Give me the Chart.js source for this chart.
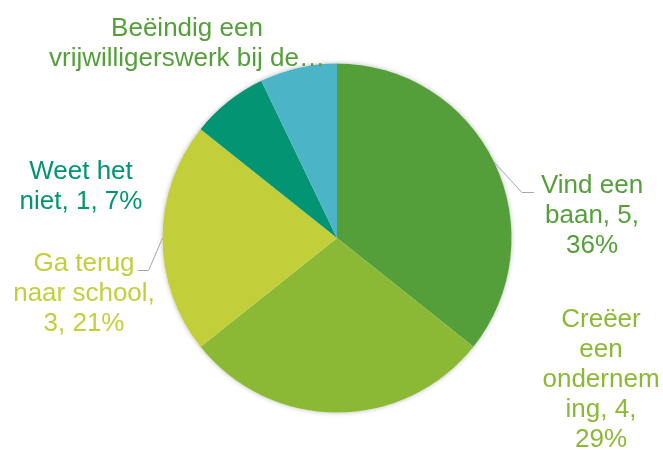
<!DOCTYPE html>
<html>
<head>
<meta charset="utf-8">
<script src="https://cdn.jsdelivr.net/npm/chart.js@4.4.1/dist/chart.umd.min.js"></script>
<style>
  body { margin: 0; background: #fff; }
  #wrap { width: 663px; height: 450px; position: relative; }
</style>
</head>
<body>
<div id="wrap"><canvas id="chart"></canvas></div>
<script>
// data
const categories = ['Vind een baan', 'Creëer een onderneming', 'Ga terug naar school', 'Weet het niet', 'Beëindig een vrijwilligerswerk bij de...'];
const counts = [5, 4, 3, 1, 1];
const sliceColors = ['#559F3A', '#8CB935', '#C2CF3A', '#039573', '#4BB4C6'];
const labelColors = ['#559F3A', '#8CB935', '#C2CF3A', '#039573', '#559F3A'];
const labelLines = [
  ['Vind een', 'baan, 5,', '36%'],
  ['Creëer', 'een', 'ondernem', 'ing, 4,', '29%'],
  ['Ga terug', 'naar school,', '3, 21%'],
  ['Weet het', 'niet, 1, 7%'],
  ['Beëindig een', 'vrijwilligerswerk bij de…']
];

// label placement, relative to pie centre (first line baseline)
const labelPos = [[255, -45], [264, 89], [-253, 33], [-256, -59], [-150, -202]];
const hasLeader = [true, false, true, false, false];
const FONT = '26px "Liberation Sans", Arial, sans-serif';
const LINE_H = 30;

// soft shadow behind whole pie
const pieShadow = {
  id: 'pieShadow',
  beforeDatasetsDraw(chart) {
    const arc = chart.getDatasetMeta(0).data[0];
    if (!arc) return;
    const c = chart.ctx;
    c.save();
    c.shadowColor = 'rgba(0,0,0,0.28)';
    c.shadowBlur = 5;
    c.fillStyle = '#ffffff';
    c.beginPath();
    c.arc(arc.x, arc.y, arc.outerRadius, 0, Math.PI * 2);
    c.fill();
    c.restore();
  }
};

const pieLabels = {
  id: 'pieLabels',
  afterDatasetsDraw(chart) {
    const c = chart.ctx;
    const arcs = chart.getDatasetMeta(0).data;
    c.save();
    c.font = FONT;
    c.textAlign = 'center';
    c.textBaseline = 'alphabetic';
    arcs.forEach((arc, i) => {
      const x = arc.x + labelPos[i][0];
      const y = arc.y + labelPos[i][1];
      const lines = labelLines[i];
      c.fillStyle = labelColors[i];
      lines.forEach((t, k) => c.fillText(t, x, y + k * LINE_H));

      if (hasLeader[i]) {
        const mid = (arc.startAngle + arc.endAngle) / 2;
        const sx = arc.x + Math.cos(mid) * arc.outerRadius;
        const sy = arc.y + Math.sin(mid) * arc.outerRadius;
        const w = c.measureText(lines[0]).width;
        let ex, elx;
        if (x > arc.x) {
          ex = x - w / 2 - 7;
          elx = ex - 12;
        } else {
          ex = x + w / 2 + 3;
          elx = ex + 11;
        }
        const ey = y - 0.5;
        c.strokeStyle = '#A6A6A6';
        c.lineWidth = 1;
        c.beginPath();
        c.moveTo(sx, sy);
        c.lineTo(elx, ey);
        c.lineTo(ex, ey);
        c.stroke();
      }
    });
    c.restore();
  }
};

const ctx = document.getElementById('chart');

new Chart(ctx, {
  type: 'pie',
  data: {
    labels: categories,
    datasets: [{
      data: counts,
      backgroundColor: sliceColors,
      borderWidth: 0
    }]
  },
  options: {
    responsive: true,
    maintainAspectRatio: false,
    animation: false,
    layout: { padding: { top: 63.5, bottom: 37.5, left: 100, right: 89 } },
    plugins: {
      legend: { display: false },
      tooltip: { enabled: false }
    }
  },
  plugins: [pieShadow, pieLabels]
});
</script>
</body>
</html>
